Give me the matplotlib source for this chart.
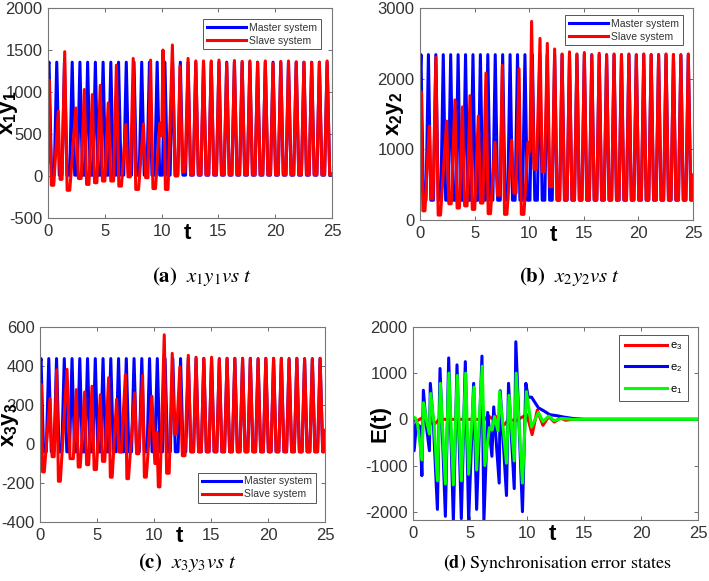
# Master/slave synchronisation plots, 2x2 panels in MATLAB look
import numpy as np
import matplotlib
matplotlib.use('Agg')
from matplotlib import pyplot as plt

plt.rcParams['font.family'] = ['Liberation Sans', 'DejaVu Sans']
plt.rcParams['mathtext.fontset'] = 'custom'
plt.rcParams['mathtext.rm'] = 'Liberation Sans'
plt.rcParams['mathtext.it'] = 'Liberation Sans:italic'
plt.rcParams['mathtext.bf'] = 'Liberation Sans:bold'
plt.rcParams['axes.unicode_minus'] = False

##############################################################################
# DATA
##############################################################################

# peak times of the master system (same oscillator in all three states)
master_peak_t = [0.09, 0.77, 1.45, 2.13, 2.81, 3.49, 4.17, 4.85, 5.53, 6.21,
                 6.89, 7.57, 8.25, 8.93, 9.61, 10.29, 10.97, 11.65, 12.33,
                 13.01, 13.69, 14.37, 15.05, 15.73, 16.41, 17.09, 17.77,
                 18.45, 19.13, 19.81, 20.49, 21.17, 21.85, 22.53, 23.21,
                 23.89, 24.57]

# --- x1y1 ---
x1_master = dict(start=1300, peak=1355, trough=10, end=20)
x1_slave_t = [0.0, 0.1, 0.4, 0.9, 1.15, 1.47, 1.8, 2.45, 2.8, 3.2, 3.5, 3.9,
              4.2, 4.6, 4.9, 5.3, 5.65, 6.02, 6.35, 6.85, 7.15, 7.5, 7.85,
              8.4, 8.7, 9.03, 9.35, 9.85, 9.97, 10.12, 10.45, 10.95, 11.3,
              11.62, 11.95]
x1_slave_v = [170, 1140, -110, 770, -40, 1480, -170, 810, -30, 1030, -100,
              970, -80, 1080, -60, 870, -60, 1320, -120, 610, -10, 1400, -160,
              620, -20, 1380, -150, 630, 480, 1500, -160, 1560, 0, 1310, 50]
x1_sync_peak = [1400, 1370, 1370, 1370, 1380, 1345, 1375, 1365, 1370, 1355,
                1370, 1340, 1365, 1370, 1360, 1355, 1350, 1355, 1370]
x1_sync_trough, x1_sync_end = 15, 25

# --- x2y2 ---
x2_master = dict(start=2000, peak=2340, trough=280, end=300)
x2_slave_t = [0.0, 0.09, 0.36, 0.85, 1.1, 1.46, 1.77, 2.44, 2.75, 3.2, 3.5,
              3.88, 4.2, 4.58, 4.9, 5.34, 5.65, 6.04, 6.35, 6.87, 7.2, 7.54,
              7.85, 8.4, 8.7, 9.07, 9.4, 9.9, 10.02, 10.22, 10.55, 10.99,
              11.3, 11.66, 12.0]
x2_slave_v = [1080, 1820, 130, 1330, 300, 2300, 70, 1400, 230, 1700, 170,
              1600, 200, 1760, 150, 1470, 240, 2080, 90, 1100, 350, 2190, 80,
              1130, 380, 2140, 80, 1100, 970, 2810, 720, 2570, 680, 2500, 470]
x2_sync_peak = [2420, 2350, 2380, 2350, 2370, 2330, 2360, 2330, 2350, 2340,
                2350, 2330, 2350, 2340, 2340, 2350, 2340, 2330, 2350]
x2_sync_trough, x2_sync_end = 285, 640

# --- x3y3 ---
x3_master = dict(start=400, peak=438, trough=-40, end=-30)
x3_slave_t = [0.0, 0.09, 0.3, 0.88, 1.15, 1.46, 1.7, 2.37, 2.78, 3.19, 3.44,
              3.92, 4.18, 4.56, 4.85, 5.29, 5.58, 6.02, 6.25, 6.72, 7.02,
              7.49, 7.69, 8.3, 8.57, 9.0, 9.24, 9.82, 10.12, 10.25, 10.45,
              10.9, 11.22, 11.6, 11.88, 12.27, 12.6]
x3_slave_v = [145, 305, -143, 233, -65, 380, -191, 383, -75, 279, -118, 267,
              -106, 296, -131, 253, -89, 340, -170, 229, -41, 356, -178, 262,
              -50, 352, -170, 245, -100, 60, -220, 560, -150, 465, 50, 395,
              -60]
x3_sync_peak = [455, 445, 440, 445, 435, 440, 440, 440, 440, 435, 440, 440,
                440, 435, 440, 435, 435, 440]
x3_sync_trough, x3_sync_end = -40, 70

# --- synchronisation errors ---
e1_t = [0.0, 0.2, 0.4, 0.78, 0.93, 1.2, 1.44, 1.55, 1.85, 2.14, 2.4, 2.84,
        3.15, 3.54, 3.88, 4.24, 4.62, 4.88, 5.35, 5.58, 6.07, 6.3, 6.7, 6.95,
        7.15, 7.45, 7.6, 8.2, 8.42, 8.88, 9.05, 9.6, 9.95, 10.4, 11.0, 11.4,
        11.9, 12.4, 13.0, 14.0, 25.0]
e1_v = [50, 30, -100, -880, 360, -50, -320, 560, -100, -1330, 780, -1400,
        1000, -1420, 950, -1330, 1000, -1190, 700, -1100, 1150, -1000, -180,
        -230, 60, -250, 600, -950, 520, -900, 1000, -1380, 600, -170, 150,
        -50, 70, -30, 20, 0, 0]
e2_t = [0.0, 0.1, 0.3, 0.6, 0.78, 0.91, 1.15, 1.44, 1.52, 1.8, 2.14, 2.37,
        2.84, 3.13, 3.54, 3.86, 4.24, 4.59, 4.88, 5.32, 5.58, 6.05, 6.22,
        6.55, 6.92, 7.08, 7.56, 7.65, 8.2, 8.38, 8.88, 9.02, 9.6, 9.9, 10.1,
        10.4, 11.0, 11.5, 12.0, 12.6, 13.2, 14.0, 15.0, 25.0]
e2_v = [-50, -680, -100, -150, -1220, 630, -100, -680, 780, -150, -1950,
        1100, -2100, 1330, -2200, 1180, -2150, 1250, -2200, 780, -1950, 1370,
        -2200, 150, -800, 270, -1380, 620, -1650, 780, -1500, 1680, -2000,
        780, 480, 480, 250, 180, 100, 80, 50, 20, 0, 0]
e3_t = [0.0, 0.3, 0.8, 1.3, 1.9, 2.3, 6.3, 6.6, 6.9, 7.2, 7.6, 8.0, 8.4, 9.0,
        9.6, 10.0, 10.45, 10.9, 11.4, 11.9, 12.4, 12.9, 13.4, 14.0, 25.0]
e3_v = [0, -40, 30, -60, -100, 0, 0, 80, 20, 80, -50, -120, 0, -30, 50, 100,
        -330, 200, -130, 60, -60, 30, -20, 0, 0]

##############################################################################
# CODE
##############################################################################

def spikes(peak_t, peak_v, trough_v):
    # peaks followed by a trough half way to the next peak
    ts, vs = [], []
    for i in range(len(peak_t)):
        ts.append(peak_t[i])
        vs.append(peak_v[i])
        if i + 1 < len(peak_t):
            ts.append(0.5 * (peak_t[i] + peak_t[i + 1]))
            vs.append(trough_v)
    return ts, vs


def flat_troughs(ts, vs, hold):
    # draw local minima as short flat bottoms, like the reference
    out_t, out_v = [], []
    for i in range(len(ts)):
        if 0 < i < len(ts) - 1 and vs[i] < vs[i - 1] and vs[i] < vs[i + 1]:
            h = min(hold, 0.35 * (ts[i] - ts[i - 1]), 0.35 * (ts[i + 1] - ts[i]))
            out_t += [ts[i] - h, ts[i] + h]
            out_v += [vs[i], vs[i]]
        else:
            out_t.append(ts[i])
            out_v.append(vs[i])
    return out_t, out_v


def master_line(m):
    ts, vs = spikes(master_peak_t, [m['peak']] * len(master_peak_t), m['trough'])
    ts = [0.0] + ts + [24.85, 25.0]
    vs = [m['start']] + vs + [m['trough'], m['end']]
    return flat_troughs(ts, vs, 0.2)


def slave_line(pre_t, pre_v, sync_peak, sync_trough, end_v):
    sync_t = master_peak_t[len(master_peak_t) - len(sync_peak):]
    ts, vs = spikes(sync_t, sync_peak, sync_trough)
    ts = pre_t + ts + [24.85, 25.0]
    vs = pre_v + vs + [sync_trough, end_v]
    return flat_troughs(ts, vs, 0.2)


W, H = 709, 581
fig = plt.figure(figsize=(W / 100, H / 100), dpi=100)


def px_axes(l, t, r, b):
    return fig.add_axes([l / W, 1 - b / H, (r - l) / W, (b - t) / H])


def style(ax, ylim, yticks, ylabel, label_x):
    ax.set_xlim(0, 25)
    ax.set_ylim(*ylim)
    ax.set_xticks([0, 5, 10, 15, 20, 25])
    ax.set_yticks(yticks)
    ax.tick_params(direction='in', top=True, right=True, length=3,
                   width=0.6, labelsize=12, colors='#555555',
                   labelcolor='#333333', pad=4)
    for s in ax.spines.values():
        s.set_color('#777777')
        s.set_linewidth(0.8)
    ax.set_ylabel(ylabel, fontsize=16, fontweight='bold')
    ax.yaxis.set_label_coords(label_x, 0.5)
    ax.text(0.49, -0.075, 't', transform=ax.transAxes, fontsize=16,
            fontweight='bold', ha='center', va='center')


lw = 2.2
blue, red, green = '#0000ff', '#ff0000', '#00ff00'

panels = [
    (px_axes(48, 8, 332, 218), x1_master, x1_slave_t, x1_slave_v,
     x1_sync_peak, x1_sync_trough, x1_sync_end, (-500, 2000),
     np.arange(-500, 2001, 500), r'$\mathbf{x_1y_1}$', -0.1),
    (px_axes(420, 8, 693, 220), x2_master, x2_slave_t, x2_slave_v,
     x2_sync_peak, x2_sync_trough, x2_sync_end, (0, 3000),
     np.arange(0, 3001, 1000), r'$\mathbf{x_2y_2}$', -0.05),
    (px_axes(40, 327, 325, 522), x3_master, x3_slave_t, x3_slave_v,
     x3_sync_peak, x3_sync_trough, x3_sync_end, (-400, 600),
     np.arange(-400, 601, 200), r'$\mathbf{x_3y_3}$', -0.068),
]
legend_spots = [('upper right', (0.961, 0.948)),
                ('upper right', (0.963, 0.967)),
                ('lower right', (0.968, 0.097))]

for (ax, m, st, sv, sp, strough, send, ylim, yt, ylab, lx), (loc, anchor) in \
        zip(panels, legend_spots):
    mt, mv = master_line(m)
    ax.plot(mt, mv, color=blue, lw=lw, label='Master system')
    s_t, s_v = slave_line(st, sv, sp, strough, send)
    ax.plot(s_t, s_v, color=red, lw=lw, label='Slave system')
    style(ax, ylim, yt, ylab, lx)
    leg = ax.legend(loc=loc, bbox_to_anchor=anchor, borderaxespad=0,
                    fontsize=7.5, handlelength=3.8, fancybox=False,
                    framealpha=1, edgecolor='#555555', borderpad=0.35,
                    labelspacing=0.3, handletextpad=0.3)
    leg.get_frame().set_linewidth(0.7)
    for txt in leg.get_texts():
        txt.set_color('#333333')

# error panel
ax_d = px_axes(413, 327, 698, 520)
ax_d.plot(e3_t, e3_v, color=red, lw=lw, label=r'e$_3$')
ax_d.plot(e2_t, e2_v, color=blue, lw=lw, label=r'e$_2$')
ax_d.plot(e1_t, e1_v, color=green, lw=lw, label=r'e$_1$')
style(ax_d, (-2180, 2000), np.arange(-2000, 2001, 1000), 'E(t)', -0.08)
leg = ax_d.legend(loc='upper right', bbox_to_anchor=(0.965, 0.959),
                  borderaxespad=0, fontsize=8, handlelength=3.8,
                  fancybox=False, framealpha=1, edgecolor='#555555',
                  borderpad=0.5, labelspacing=0.9, handletextpad=0.3)
leg.get_frame().set_linewidth(0.7)

# captions
cap = dict(ha='center', va='center', family='STIXGeneral',
           math_fontfamily='stix')
fig.text(202 / W, 1 - 276 / H, r'$\mathbf{(a)}\ \ x_1y_1vs\ t$',
         fontsize=15, **cap)
fig.text(570 / W, 1 - 276 / H, r'$\mathbf{(b)}\ \ x_2y_2vs\ t$',
         fontsize=15, **cap)
fig.text(187 / W, 1 - 563 / H, r'$\mathbf{(c)}\ \ x_3y_3vs\ t$',
         fontsize=15, **cap)
fig.text(557 / W, 1 - 563 / H, r'$\mathbf{(d)}$ Synchronisation error states',
         fontsize=13, **cap)

fig.savefig('out.png', dpi=100)
